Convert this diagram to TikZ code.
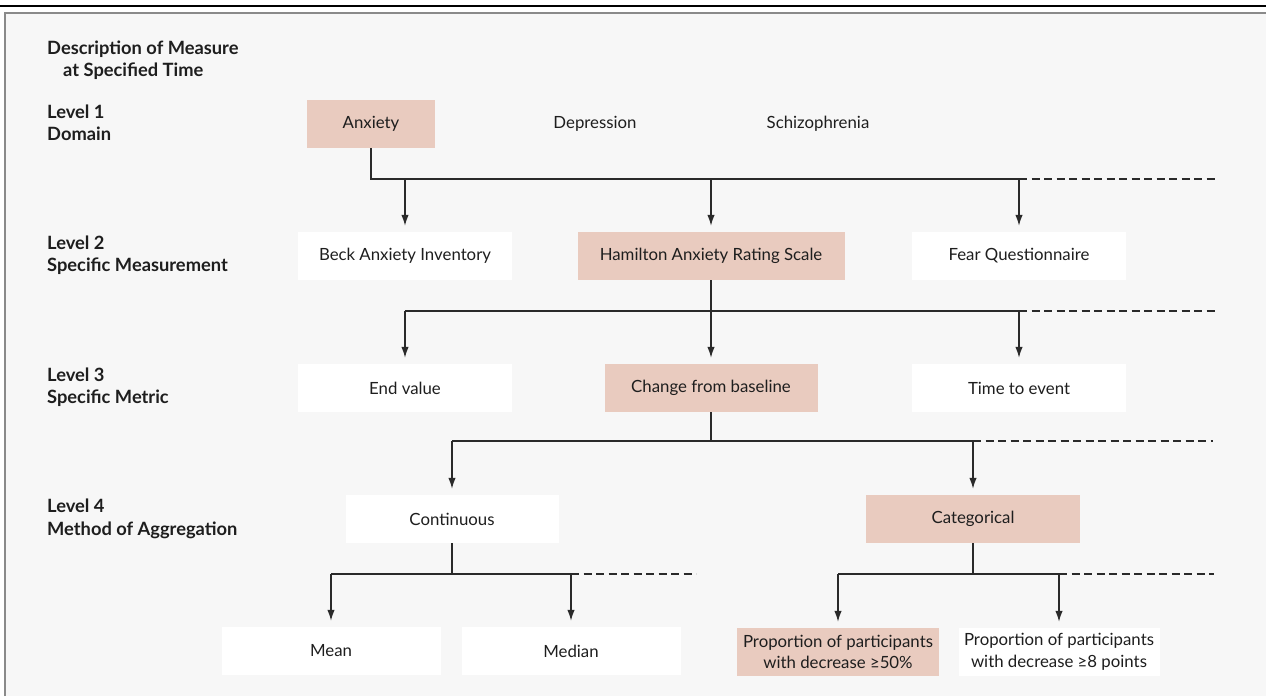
\documentclass[tikz,border=0pt]{standalone}
\usepackage{fontspec}
\setmainfont{Lato}
\usetikzlibrary{arrows.meta}
\definecolor{bg}{HTML}{F7F7F7}
\definecolor{pinkbox}{HTML}{E9CBBF}
\definecolor{txt}{HTML}{1E1E1E}
\definecolor{ln}{HTML}{2A2A2A}
\definecolor{frame}{HTML}{8A8A8A}
\begin{document}
\begin{tikzpicture}[x=1pt,y=-1pt,
  box/.style={minimum height=48pt, inner sep=0pt, font=\fontsize{16.8}{21.5}\selectfont, text=txt, align=center},
  hi/.style={box, fill=pinkbox},
  lo/.style={box, fill=white},
  plain/.style={box},
  lbl/.style={anchor=west, align=left, font=\bfseries\fontsize{18.3}{22.5}\selectfont, inner sep=0pt, text=txt},
  conn/.style={draw=ln, line width=1.4pt},
  arr/.style={conn, -{Latex[length=11pt,width=7.5pt]}, shorten >=6pt},
  ext/.style={draw=ln, line width=1.4pt, dash pattern=on 8pt off 4.5pt}]
\useasboundingbox (0,0) rectangle (1266,696);
\fill[white] (0,0) rectangle (1266,696);
\fill[bg] (6,14) rectangle (1266,696);
\draw[black, line width=1.6pt] (0,6) -- (1266,6);
\draw[frame, line width=2.2pt] (5,696) -- (5,13) -- (1266,13);

% left labels
\node[lbl] (desc) at (47,60) {Description of Measure\\\hspace*{16pt}at Specified Time};
\node[lbl] (l1) at (47,123) {Level 1\\Domain};
\node[lbl] (l2) at (47,255) {Level 2\\Specific Measurement};
\node[lbl] (l3) at (47,387) {Level 3\\Specific Metric};
\node[lbl] (l4) at (47,519) {Level 4\\Method of Aggregation};

% level 1
\node[hi, minimum width=128pt] (anx) at (371,124) {Anxiety};
\node[plain] (dep) at (595,124) {Depression};
\node[plain] (sch) at (818,124) {Schizophrenia};
% level 2
\node[lo, minimum width=214pt] (beck) at (405,256) {Beck Anxiety Inventory};
\node[hi, minimum width=267pt] (ham) at (711,256) {Hamilton Anxiety Rating Scale};
\node[lo, minimum width=214pt] (fear) at (1019,256) {Fear Questionnaire};
% level 3
\node[lo, minimum width=214pt] (endv) at (405,388) {End value};
\node[hi, minimum width=213pt] (chg) at (711,388) {Change from baseline};
\node[lo, minimum width=214pt] (tte) at (1019,388) {Time to event};
% level 4
\node[lo, minimum width=213pt] (cont) at (452,519) {Continuous};
\node[hi, minimum width=214pt] (cat) at (973,519) {Categorical};
% level 5
\node[lo, minimum width=219pt] (mean) at (331,651) {Mean};
\node[lo, minimum width=219pt] (med) at (571,651) {Median};
\node[hi, minimum width=202pt] (p50) at (838,652) {Proportion of participants\\with decrease ≥50\%};
\node[lo, minimum width=201pt] (p8) at (1059,652) {Proportion of participants\\with decrease ≥8 points};

% connectors level 1 -> 2
\coordinate (b1) at (371,179);
\coordinate (e1) at (1217,179);
\draw[conn] (anx.south) -- (b1) -- (fear.north |- b1);
\draw[ext] (fear.north |- b1) -- (e1);
\foreach \n in {beck,ham,fear} \draw[arr] (\n.north |- b1) -- (\n.north);

% level 2 -> 3
\coordinate (b2) at (711,311);
\coordinate (e2) at (1217,311);
\draw[conn] (ham.south) -- (b2);
\draw[conn] (endv.north |- b2) -- (tte.north |- b2);
\draw[ext] (tte.north |- b2) -- (e2);
\foreach \n in {endv,chg,tte} \draw[arr] (\n.north |- b2) -- (\n.north);

% level 3 -> 4
\coordinate (b3) at (711,441);
\coordinate (e3) at (1213,441);
\draw[conn] (chg.south) -- (b3);
\draw[conn] (cont.north |- b3) -- (cat.north |- b3);
\draw[ext] (cat.north |- b3) -- (e3);
\foreach \n in {cont,cat} \draw[arr] (\n.north |- b3) -- (\n.north);

% level 4 -> 5 (left)
\coordinate (b4) at (452,574);
\coordinate (e4) at (696,574);
\draw[conn] (cont.south) -- (b4);
\draw[conn] (mean.north |- b4) -- (med.north |- b4);
\draw[ext] (med.north |- b4) -- (e4);
\foreach \n in {mean,med} \draw[arr] (\n.north |- b4) -- (\n.north);

% level 4 -> 5 (right)
\coordinate (b5) at (973,574);
\coordinate (e5) at (1214,574);
\draw[conn] (cat.south) -- (b5);
\draw[conn] (p50.north |- b5) -- (p8.north |- b5);
\draw[ext] (p8.north |- b5) -- (e5);
\foreach \n in {p50,p8} \draw[arr] (\n.north |- b5) -- (\n.north);
\end{tikzpicture}
\end{document}
